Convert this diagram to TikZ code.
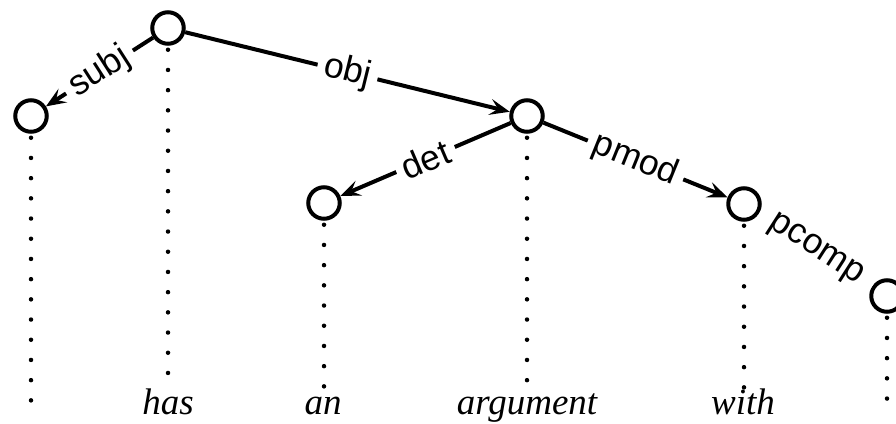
\documentclass[tikz,border=0pt]{standalone}
\usepackage{fontspec}
\setmainfont{Liberation Serif}
\setsansfont{Liberation Sans}
\usetikzlibrary{arrows.meta}
\begin{document}
\begin{tikzpicture}[x=1pt,y=-1pt,
  tnode/.style={circle,draw,line width=4pt,fill=white,minimum size=31.5pt,inner sep=0pt},
  dep/.style={line width=4pt,-{Stealth[length=20pt,width=16pt,inset=8pt]}},
  lab/.style={midway,sloped,fill=white,inner xsep=7pt,inner ysep=1pt,font=\sffamily\fontsize{35.5}{42}\selectfont},
  word/.style={anchor=base,font=\itshape\fontsize{37}{44}\selectfont},
  dots/.style={line width=4.5pt,line cap=round,dash pattern=on 0pt off 20.2pt}]
\useasboundingbox (0,0) rectangle (896,423);
% tree nodes
\node[tnode] (nHas)   at (168,28)  {};
\node[tnode] (nSubj)  at (31,116)  {};
\node[tnode] (nArg)   at (527,116) {};
\node[tnode] (nAn)    at (324,203) {};
\node[tnode] (nWith)  at (744,204) {};
\node[tnode] (nRight) at (887,296) {};
% words
\node[word] (wHas)  at (168,414) {has};
\node[word] (wAn)   at (323,414) {an};
\node[word] (wArg)  at (527,414) {argument};
\node[word] (wWith) at (743,414) {with};
% ends of the dotted projection lines
\coordinate (eSubj)  at (31,401);
\coordinate (eHas)   at (168,390);
\coordinate (eAn)    at (324,397);
\coordinate (eArg)   at (527,392);
\coordinate (eWith)  at (744,388);
\coordinate (eRight) at (887,401);
\draw[dots] ([yshift=-4pt]nSubj.south)  -- (eSubj);
\draw[dots] ([yshift=-4pt]nHas.south)   -- (eHas);
\draw[dots] ([yshift=-4pt]nAn.south)    -- (eAn);
\draw[dots] ([yshift=-4pt]nArg.south)   -- (eArg);
\draw[dots] ([yshift=-4pt]nWith.south)  -- (eWith);
\draw[dots] ([yshift=-4pt]nRight.south) -- (eRight);
% dependency edges
\draw[dep] (nHas)  -- node[lab] {subj}  (nSubj);
\draw[dep] (nHas)  -- node[lab] {obj}   (nArg);
\draw[dep] (nArg)  -- node[lab] {det}   (nAn);
\draw[dep] (nArg)  -- node[lab] {pmod}  (nWith);
\draw[dep] (nWith) -- node[lab,inner xsep=14pt] {pcomp} (nRight);
\end{tikzpicture}
\end{document}
